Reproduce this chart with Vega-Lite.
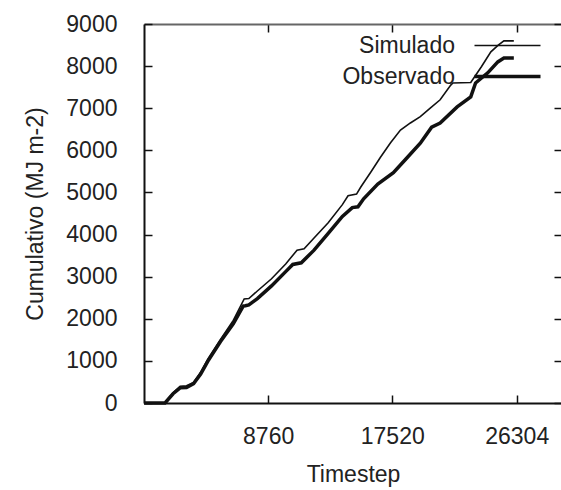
{
  "$schema": "https://vega.github.io/schema/vega-lite/v6.json",
  "width": 418,
  "height": 379,
  "autosize": {"type": "none"},
  "padding": {"left": 144, "top": 24, "right": 0, "bottom": 87},
  "background": "white",
  "config": {
    "view": {"stroke": null},
    "font": "Liberation Sans",
    "axis": {"grid": false, "domainColor": "#111", "domainWidth": 2, "tickColor": "#111", "tickWidth": 1.5, "labelFont": "Liberation Sans", "titleFont": "Liberation Sans", "labelColor": "#222", "titleColor": "#222", "labelFontSize": 23, "titleFontSize": 23, "titleFontWeight": "normal", "format": "d"}
  },
  "data": {"values": [
    {"t": 0, "v": 0, "series": "Simulado"},
    {"t": 1485, "v": 0, "series": "Simulado"},
    {"t": 2050, "v": 240, "series": "Simulado"},
    {"t": 2550, "v": 400, "series": "Simulado"},
    {"t": 3000, "v": 410, "series": "Simulado"},
    {"t": 3500, "v": 490, "series": "Simulado"},
    {"t": 4000, "v": 730, "series": "Simulado"},
    {"t": 4500, "v": 1040, "series": "Simulado"},
    {"t": 5400, "v": 1510, "series": "Simulado"},
    {"t": 6300, "v": 1960, "series": "Simulado"},
    {"t": 7070, "v": 2470, "series": "Simulado"},
    {"t": 7400, "v": 2480, "series": "Simulado"},
    {"t": 8000, "v": 2660, "series": "Simulado"},
    {"t": 9000, "v": 2950, "series": "Simulado"},
    {"t": 10000, "v": 3300, "series": "Simulado"},
    {"t": 10800, "v": 3630, "series": "Simulado"},
    {"t": 11300, "v": 3660, "series": "Simulado"},
    {"t": 12000, "v": 3920, "series": "Simulado"},
    {"t": 13000, "v": 4280, "series": "Simulado"},
    {"t": 14000, "v": 4710, "series": "Simulado"},
    {"t": 14400, "v": 4920, "series": "Simulado"},
    {"t": 15000, "v": 4960, "series": "Simulado"},
    {"t": 15300, "v": 5130, "series": "Simulado"},
    {"t": 16000, "v": 5480, "series": "Simulado"},
    {"t": 16700, "v": 5840, "series": "Simulado"},
    {"t": 17400, "v": 6180, "series": "Simulado"},
    {"t": 18100, "v": 6480, "series": "Simulado"},
    {"t": 18800, "v": 6650, "series": "Simulado"},
    {"t": 19500, "v": 6800, "series": "Simulado"},
    {"t": 20200, "v": 7000, "series": "Simulado"},
    {"t": 20900, "v": 7200, "series": "Simulado"},
    {"t": 21650, "v": 7550, "series": "Simulado"},
    {"t": 21800, "v": 7600, "series": "Simulado"},
    {"t": 23060, "v": 7610, "series": "Simulado"},
    {"t": 23800, "v": 7980, "series": "Simulado"},
    {"t": 24480, "v": 8340, "series": "Simulado"},
    {"t": 25000, "v": 8500, "series": "Simulado"},
    {"t": 25400, "v": 8600, "series": "Simulado"},
    {"t": 26100, "v": 8600, "series": "Simulado"},
    {"t": 0, "v": 0, "series": "Observado"},
    {"t": 1485, "v": 0, "series": "Observado"},
    {"t": 2050, "v": 220, "series": "Observado"},
    {"t": 2550, "v": 360, "series": "Observado"},
    {"t": 3000, "v": 370, "series": "Observado"},
    {"t": 3500, "v": 460, "series": "Observado"},
    {"t": 4000, "v": 690, "series": "Observado"},
    {"t": 4500, "v": 990, "series": "Observado"},
    {"t": 5400, "v": 1460, "series": "Observado"},
    {"t": 6300, "v": 1880, "series": "Observado"},
    {"t": 7000, "v": 2300, "series": "Observado"},
    {"t": 7150, "v": 2310, "series": "Observado"},
    {"t": 7400, "v": 2330, "series": "Observado"},
    {"t": 8000, "v": 2480, "series": "Observado"},
    {"t": 9000, "v": 2780, "series": "Observado"},
    {"t": 10000, "v": 3120, "series": "Observado"},
    {"t": 10500, "v": 3290, "series": "Observado"},
    {"t": 11100, "v": 3330, "series": "Observado"},
    {"t": 12000, "v": 3630, "series": "Observado"},
    {"t": 13000, "v": 4030, "series": "Observado"},
    {"t": 14000, "v": 4430, "series": "Observado"},
    {"t": 14700, "v": 4640, "series": "Observado"},
    {"t": 15100, "v": 4660, "series": "Observado"},
    {"t": 15500, "v": 4850, "series": "Observado"},
    {"t": 16500, "v": 5200, "series": "Observado"},
    {"t": 17600, "v": 5470, "series": "Observado"},
    {"t": 18500, "v": 5800, "series": "Observado"},
    {"t": 19500, "v": 6170, "series": "Observado"},
    {"t": 20300, "v": 6550, "series": "Observado"},
    {"t": 20900, "v": 6650, "series": "Observado"},
    {"t": 22100, "v": 7030, "series": "Observado"},
    {"t": 23060, "v": 7270, "series": "Observado"},
    {"t": 23400, "v": 7600, "series": "Observado"},
    {"t": 24260, "v": 7840, "series": "Observado"},
    {"t": 24970, "v": 8100, "series": "Observado"},
    {"t": 25400, "v": 8190, "series": "Observado"},
    {"t": 26100, "v": 8190, "series": "Observado"}
  ]},
  "layer": [
    {
      "mark": {"type": "line", "color": "#111", "interpolate": "linear"},
      "encoding": {
        "x": {"field": "t", "type": "quantitative", "scale": {"domain": [0, 29500], "nice": false},
              "axis": {"values": [8760, 17520, 26304], "tickSize": -8, "labelPadding": 30, "title": "Timestep", "titlePadding": 15}},
        "y": {"field": "v", "type": "quantitative", "scale": {"domain": [0, 9000], "nice": false},
              "axis": {"values": [0, 1000, 2000, 3000, 4000, 5000, 6000, 7000, 8000, 9000], "tickSize": -8, "labelPadding": 35, "title": "Cumulativo (MJ m-2)", "titlePadding": 18}},
        "detail": {"field": "series"},
        "strokeWidth": {"field": "series", "type": "nominal", "scale": {"domain": ["Simulado", "Observado"], "range": [1.6, 3.5]},
          "legend": {"title": null, "orient": "none", "legendX": 352, "legendY": 10, "padding": 0,
                     "symbolType": "M-6,0H6", "symbolSize": 121, "symbolStrokeColor": "#111", "symbolFillColor": "transparent",
                     "labelAlign": "right", "labelOffset": -64, "labelFontSize": 23, "labelColor": "#222", "labelFont": "Liberation Sans", "rowPadding": 7}}
      }
    },
    {
      "mark": {"type": "line", "opacity": 0},
      "encoding": {
        "x": {"field": "t", "type": "quantitative", "axis": {"orient": "top", "values": [8760, 17520, 26304], "tickSize": -8, "labels": false, "title": null, "domainColor": "#666"}},
        "y": {"field": "v", "type": "quantitative", "axis": {"orient": "right", "values": [0, 1000, 2000, 3000, 4000, 5000, 6000, 7000, 8000, 9000], "tickSize": -8, "labels": false, "title": null}},
        "detail": {"field": "series"}
      }
    }
  ],
  "resolve": {"axis": {"x": "independent", "y": "independent"}}
}
